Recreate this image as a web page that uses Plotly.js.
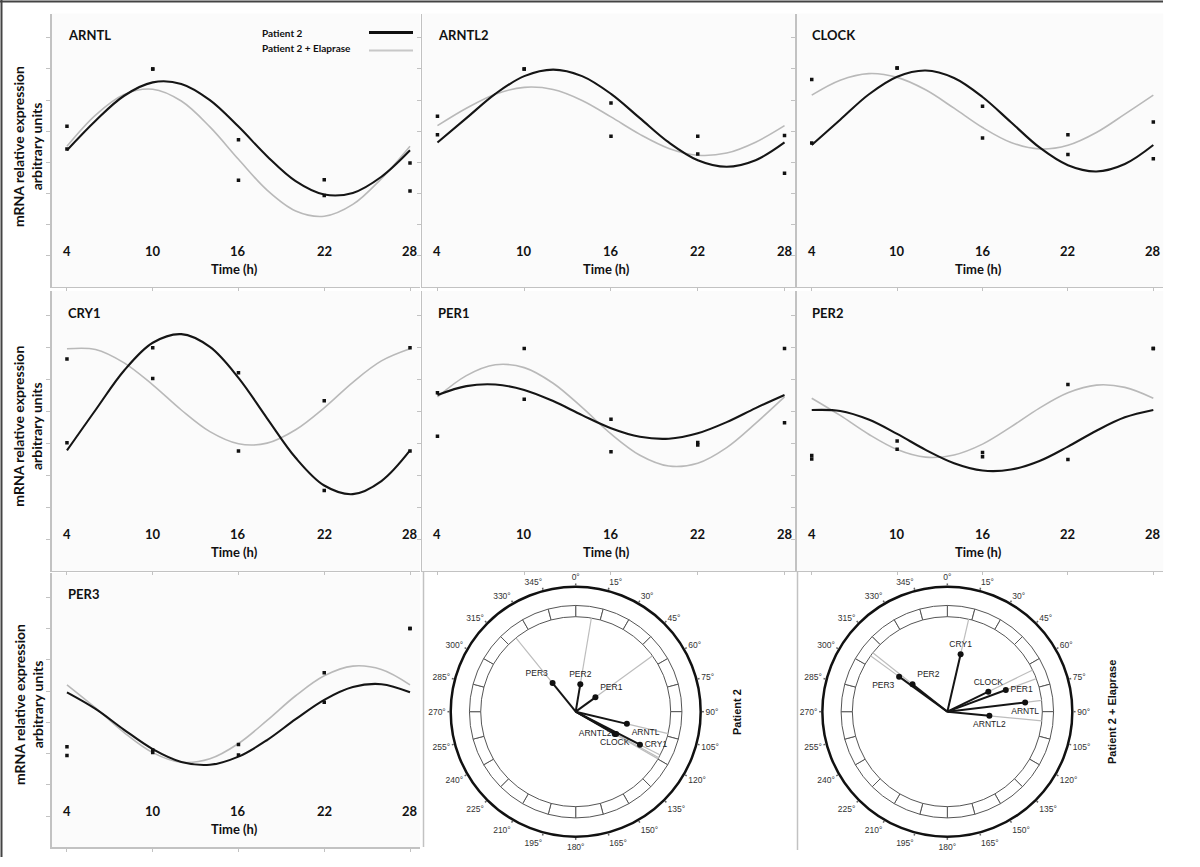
<!DOCTYPE html>
<html><head><meta charset="utf-8">
<script src="https://cdn.plot.ly/plotly-3.0.1.min.js"></script>
<style>html,body{margin:0;padding:0;background:#fff}#chart{width:1200px;height:867px}</style>
</head><body><div id="chart"></div>
<script>
// ---------- data ----------
const sampleHours = [4, 10, 16, 22, 28];
const timeTickLabels = ['4', '10', '16', '22', '28'];
const curveHours = [4, 6, 8, 10, 12, 14, 16, 18, 20, 22, 24, 26, 28];
const yTickVals = [0, 1, 2, 3, 4, 5, 6, 7];
const geneNames = ['ARNTL', 'ARNTL2', 'CLOCK', 'CRY1', 'PER1', 'PER2', 'PER3'];

// fitted cosinor curves, Patient 2 and Patient 2 + Elaprase
const arntlP2Fit   = [3.39,4.34,5.14,5.57,5.52,5.00,4.15,3.20,2.40,1.97,2.02,2.54,3.39];
const arntlElaFit  = [3.52,4.52,5.18,5.35,4.97,4.14,3.10,2.11,1.44,1.27,1.65,2.48,3.52];
const arntl2P2Fit  = [3.64,4.42,5.20,5.77,5.98,5.77,5.20,4.42,3.64,3.07,2.86,3.07,3.64];
const arntl2ElaFit = [4.18,4.74,5.19,5.41,5.34,4.99,4.46,3.90,3.45,3.23,3.30,3.65,4.18];
const clockP2Fit   = [3.56,4.37,5.18,5.75,5.95,5.71,5.10,4.29,3.48,2.91,2.71,2.95,3.56];
const clockElaFit  = [5.16,5.64,5.85,5.73,5.33,4.74,4.12,3.64,3.43,3.55,3.96,4.55,5.16];
const cry1P2Fit    = [2.78,4.05,5.29,6.16,6.43,6.03,5.06,3.79,2.55,1.68,1.41,1.82,2.78];
const cry1ElaFit   = [5.97,5.95,5.53,4.84,4.05,3.37,2.99,3.01,3.43,4.12,4.92,5.59,5.97];
const per1P2Fit    = [4.52,4.80,4.85,4.68,4.33,3.89,3.48,3.21,3.15,3.32,3.67,4.11,4.52];
const per1ElaFit   = [4.46,5.13,5.47,5.38,4.89,4.13,3.30,2.63,2.29,2.38,2.87,3.63,4.46];
const per2P2Fit    = [4.05,4.02,3.75,3.30,2.80,2.38,2.15,2.18,2.45,2.90,3.40,3.82,4.05];
const per2ElaFit   = [4.42,3.88,3.29,2.81,2.57,2.64,2.98,3.52,4.11,4.59,4.83,4.76,4.42];
const per3P2Fit    = [3.96,3.43,2.76,2.14,1.73,1.64,1.90,2.43,3.10,3.72,4.13,4.22,3.96];
const per3ElaFit   = [4.20,3.46,2.67,2.03,1.72,1.83,2.32,3.06,3.85,4.49,4.80,4.69,4.20];

// measured points at each sampling time
const arntlDotsA  = [4.16, 6.00, 3.73, 2.44, 2.98];
const arntlDotsB  = [3.43, 6.00, 2.43, 1.94, 2.08];
const arntl2DotsA = [4.48, 6.00, 4.91, 3.84, 3.86];
const arntl2DotsB = [3.89, 6.00, 3.84, 3.27, 2.65];
const clockDotsA  = [5.66, 6.03, 4.80, 3.89, 4.30];
const clockDotsB  = [3.62, 6.03, 3.78, 3.25, 3.12];
const cry1DotsA   = [5.65, 6.00, 5.22, 4.34, 6.00];
const cry1DotsB   = [3.02, 5.04, 2.76, 1.52, 2.76];
const per1DotsA   = [4.59, 5.98, 3.76, 3.03, 5.98];
const per1DotsB   = [3.23, 4.39, 2.74, 2.95, 3.65];
const per2DotsA   = [2.62, 3.08, 2.72, 4.85, 5.98];
const per2DotsB   = [2.51, 2.82, 2.58, 2.50, 5.98];
const per3DotsA   = [2.22, 2.11, 2.29, 4.59, 6.00];
const per3DotsB   = [1.94, 2.03, 1.95, 3.64, 6.00];

// phase maps (angle in degrees, relative amplitude)
const polarP2Genes  = ['PER3', 'PER2', 'PER1', 'ARNTL', 'ARNTL2', 'CLOCK', 'CRY1'];
const polarP2Angle  = [321, 9.5, 54, 103.4, 119.0, 119.8, 117.2];
const polarP2Radius = [0.294, 0.223, 0.195, 0.421, 0.370, 0.360, 0.578];
const polarElGenes  = ['CRY1', 'PER3', 'PER2', 'CLOCK', 'PER1', 'ARNTL', 'ARNTL2'];
const polarElAngle  = [13, 306, 308.3, 64, 69.6, 83.2, 95.6];
const polarElRadius = [0.472, 0.477, 0.355, 0.365, 0.499, 0.627, 0.338];
const angleTicks = [0,15,30,45,60,75,90,105,120,135,150,165,180,195,210,225,240,255,270,285,300,315,330,345];
const angleTickText = angleTicks.map(a => a + '°');

// ---------- style / layout helpers ----------
const polarP2TextPos = ['top left', 'top center', 'top right', 'bottom right', 'middle left', 'bottom center', 'middle right'];
const polarElTextPos = ['top center', 'bottom left', 'top right', 'top center', 'middle right', 'bottom center', 'bottom center'];

const fitsP2  = [arntlP2Fit, arntl2P2Fit, clockP2Fit, cry1P2Fit, per1P2Fit, per2P2Fit, per3P2Fit];
const fitsEla = [arntlElaFit, arntl2ElaFit, clockElaFit, cry1ElaFit, per1ElaFit, per2ElaFit, per3ElaFit];
const dotsA = [arntlDotsA, arntl2DotsA, clockDotsA, cry1DotsA, per1DotsA, per2DotsA, per3DotsA];
const dotsB = [arntlDotsB, arntl2DotsB, clockDotsB, cry1DotsB, per1DotsB, per2DotsB, per3DotsB];

const colDomains = [[0.0433, 0.3500], [0.3519, 0.6622], [0.6640, 0.9694]];
const rowDomains = [[0.6690, 0.9844], [0.3415, 0.6642], [0.0228, 0.3391]];
const panelCol = [0, 1, 2, 0, 1, 2, 0];
const panelRow = [0, 0, 0, 1, 1, 1, 2];
const xRange = [2.95, 28.7];
const yRange = [-1, 7.78];

const BOLD = 'Lato, "Open Sans", sans-serif';
const ARIAL = '"Liberation Sans", Arial, sans-serif';
const axisGrey = '#c2c2c2';

const traces = [];
const layout = {
  width: 1200, height: 867,
  margin: {l: 0, r: 0, t: 0, b: 0},
  paper_bgcolor: '#ffffff',
  plot_bgcolor: '#fbfbfb',
  showlegend: false,
  font: {family: BOLD, color: '#111'},
  annotations: [],
  shapes: []
};

geneNames.forEach((gene, i) => {
  const s = i === 0 ? '' : String(i + 1);
  const xa = 'x' + s, ya = 'y' + s;
  layout['xaxis' + s] = {
    domain: colDomains[panelCol[i]], range: xRange, anchor: ya,
    showgrid: false, zeroline: false, showline: true, linecolor: axisGrey, linewidth: 1.5,
    ticks: 'outside', ticklen: 3, tickcolor: axisGrey, tickvals: sampleHours, showticklabels: false
  };
  layout['yaxis' + s] = {
    domain: rowDomains[panelRow[i]], range: yRange, anchor: xa,
    showgrid: false, zeroline: false, showline: true, linecolor: axisGrey, linewidth: 1.5,
    ticks: 'outside', ticklen: 4, tickcolor: axisGrey, tickvals: yTickVals, showticklabels: false
  };
  traces.push({type: 'scatter', mode: 'lines', x: curveHours, y: fitsEla[i], xaxis: xa, yaxis: ya,
    line: {color: '#b9b9b9', width: 1.6, shape: 'spline', smoothing: 1}, hoverinfo: 'skip'});
  traces.push({type: 'scatter', mode: 'lines', x: curveHours, y: fitsP2[i], xaxis: xa, yaxis: ya,
    line: {color: '#151515', width: 2.1, shape: 'spline', smoothing: 1}, hoverinfo: 'skip'});
  [dotsA[i], dotsB[i]].forEach(d => traces.push({type: 'scatter', mode: 'markers', x: sampleHours, y: d,
    xaxis: xa, yaxis: ya, marker: {symbol: 'square', size: 3.5, color: '#111'}, hoverinfo: 'skip'}));

  layout.annotations.push({xref: xa, yref: ya, x: 3.9, y: 7.1, xanchor: 'left', yanchor: 'middle',
    text: '<b>' + gene + '</b>', showarrow: false, font: {family: BOLD, size: 13, color: '#111'}});
  sampleHours.forEach((h, k) => layout.annotations.push({xref: xa, yref: ya, x: h, y: 0.17,
    xanchor: 'center', yanchor: 'middle',
    text: '<b>' + timeTickLabels[k] + '</b>', showarrow: false, font: {family: BOLD, size: 13, color: '#111'}}));
  layout.annotations.push({xref: xa, yref: ya, x: 15.7, y: -0.42, xanchor: 'center', yanchor: 'middle',
    text: '<b>Time (h)</b>', showarrow: false, font: {family: BOLD, size: 13, color: '#111'}});
});

// y-axis titles, one per row
[147, 426.7, 705].forEach(py => layout.annotations.push({xref: 'paper', yref: 'paper',
  x: 28 / 1200, y: 1 - py / 867, xanchor: 'center', yanchor: 'middle', align: 'center',
  textangle: -90, showarrow: false,
  text: '<b>mRNA relative expression</b><br><b>arbitrary units</b>',
  font: {family: BOLD, size: 14, color: '#111'}}));

// legend in first panel
layout.annotations.push({xref: 'paper', yref: 'paper', x: 260 / 1200, y: 1 - 33.3 / 867, xanchor: 'left', yanchor: 'middle',
  text: '<b>Patient 2</b>', showarrow: false, font: {family: BOLD, size: 10, color: '#111'}});
layout.annotations.push({xref: 'paper', yref: 'paper', x: 260 / 1200, y: 1 - 48.3 / 867, xanchor: 'left', yanchor: 'middle',
  text: '<b>Patient 2 + Elaprase</b>', showarrow: false, font: {family: BOLD, size: 10, color: '#111'}});
layout.shapes.push({type: 'line', xref: 'paper', yref: 'paper', x0: 369 / 1200, x1: 413 / 1200,
  y0: 1 - 32.5 / 867, y1: 1 - 32.5 / 867, line: {color: '#111', width: 3}});
layout.shapes.push({type: 'line', xref: 'paper', yref: 'paper', x0: 369 / 1200, x1: 413 / 1200,
  y0: 1 - 50.5 / 867, y1: 1 - 50.5 / 867, line: {color: '#c8c8c8', width: 2}});

// outer frame and panel separators
layout.shapes.push({type: 'line', xref: 'paper', yref: 'paper', x0: 0, x1: 1163 / 1200,
  y0: 1 - 1.5 / 867, y1: 1 - 1.5 / 867, line: {color: '#444', width: 2}});
layout.shapes.push({type: 'line', xref: 'paper', yref: 'paper', x0: 1.5 / 1200, x1: 1.5 / 1200,
  y0: 1, y1: 1 - 857 / 867, line: {color: '#444', width: 2}});
layout.shapes.push({type: 'line', xref: 'paper', yref: 'paper', x0: 423.5 / 1200, x1: 423.5 / 1200,
  y0: 1 - 571 / 867, y1: 1 - 847 / 867, line: {color: axisGrey, width: 1.5}});
layout.shapes.push({type: 'line', xref: 'paper', yref: 'paper', x0: 797.5 / 1200, x1: 797.5 / 1200,
  y0: 1 - 571 / 867, y1: 1 - 850 / 867, line: {color: axisGrey, width: 1.5}});

// ---------- polar phase maps ----------
const bandInner = 0.76, bandOuter = 0.85;
const bandCenters = angleTicks.map(a => a + 7.5);

function addPolar(sub, names, angles, radii, textPos, domainX, label, labelX) {
  traces.push({type: 'barpolar', subplot: sub, theta: bandCenters, r: bandCenters.map(() => bandOuter - bandInner),
    base: bandInner, width: bandCenters.map(() => 15),
    marker: {color: '#ffffff', line: {color: '#555', width: 1}}, hoverinfo: 'skip'});
  names.forEach((n, i) => {
    traces.push({type: 'scatterpolar', subplot: sub, mode: 'lines', r: [radii[i], bandInner],
      theta: [angles[i], angles[i]], line: {color: '#bdbdbd', width: 1.2}, hoverinfo: 'skip'});
    traces.push({type: 'scatterpolar', subplot: sub, mode: 'lines', r: [0, radii[i]],
      theta: [angles[i], angles[i]], line: {color: '#151515', width: 2}, hoverinfo: 'skip'});
  });
  traces.push({type: 'scatterpolar', subplot: sub, mode: 'markers+text', r: radii, theta: angles,
    text: names, textposition: textPos, marker: {size: 6, color: '#111'},
    textfont: {family: ARIAL, size: 8.5, color: '#222'}, hoverinfo: 'skip', cliponaxis: false});
  layout[sub] = {
    domain: {x: domainX, y: [0.0350, 0.3233]},
    bgcolor: 'rgba(0,0,0,0)',
    radialaxis: {visible: false, range: [0, 1]},
    angularaxis: {rotation: 90, direction: 'clockwise', tickmode: 'array', tickvals: angleTicks,
      ticktext: angleTickText, showgrid: false, showline: true, linecolor: '#111', linewidth: 2.5,
      ticks: 'outside', ticklen: 2, tickcolor: '#666', tickwidth: 1.5,
      tickfont: {family: ARIAL, size: 8.5, color: '#333'}}
  };
  layout.annotations.push({xref: 'paper', yref: 'paper', x: labelX, y: 1 - 712 / 867,
    xanchor: 'center', yanchor: 'middle', textangle: -90,
    text: '<b>' + label + '</b>', showarrow: false, font: {family: ARIAL, size: 11, color: '#111'}});
}
addPolar('polar', polarP2Genes, polarP2Angle, polarP2Radius, polarP2TextPos, [0.3756, 0.5839], 'Patient 2', 737 / 1200);
addPolar('polar2', polarElGenes, polarElAngle, polarElRadius, polarElTextPos, [0.6853, 0.8936], 'Patient 2 + Elaprase', 1112 / 1200);

Plotly.newPlot('chart', traces, layout, {displayModeBar: false, staticPlot: true});
</script>
</body></html>
